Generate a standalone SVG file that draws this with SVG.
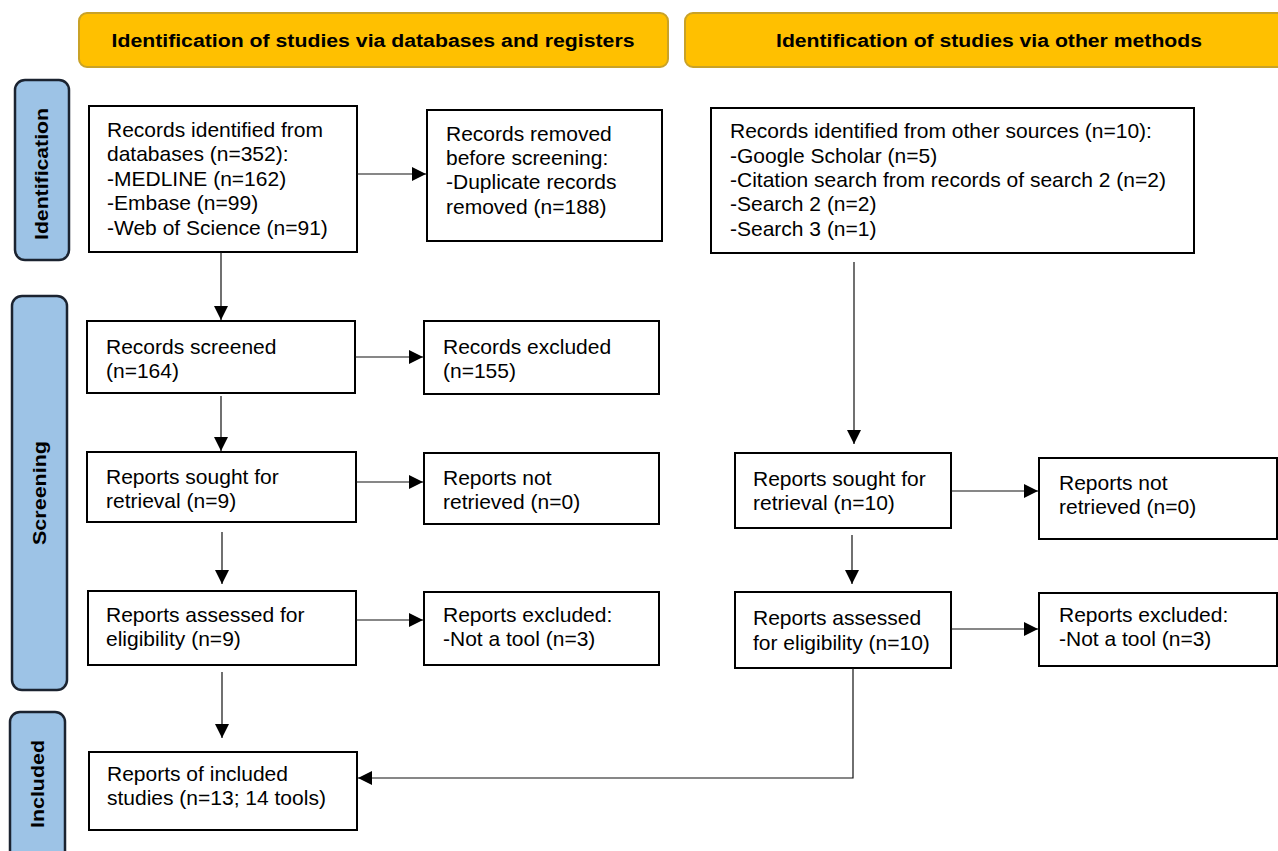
<svg xmlns="http://www.w3.org/2000/svg" width="1278" height="851" viewBox="0 0 1278 851">
<defs>
<marker id="ah" viewBox="0 0 14 14" refX="14" refY="7" markerWidth="14" markerHeight="14" markerUnits="userSpaceOnUse" orient="auto">
<path d="M0,0 L14,7 L0,14 z" fill="#000"/>
</marker>
<style>
.hdr{fill:#FFC000;stroke:#C9A227;stroke-width:2}
.hdrt{font-family:"Liberation Sans",Arial,sans-serif;font-weight:bold;font-size:18px;fill:#000;text-anchor:middle}
.side{fill:#9DC3E6;stroke:#1B2330;stroke-width:2.5}
.sidet{font-family:"Liberation Sans",Arial,sans-serif;font-weight:bold;font-size:18px;fill:#000;text-anchor:middle}
.box{fill:#fff;stroke:#000;stroke-width:2}
.t{font-family:"Liberation Sans",Arial,sans-serif;font-size:21px;fill:#000}
.c{fill:none;stroke:#111;stroke-width:1.2}
</style>
</defs>
<rect width="1278" height="851" fill="#fff"/>

<g id="header-databases">
<rect class="hdr" x="79" y="13" width="589" height="54" rx="8"/>
<text class="hdrt" x="373" y="47" textLength="523" lengthAdjust="spacingAndGlyphs">Identification of studies via databases and registers</text>
</g>
<g id="header-other">
<rect class="hdr" x="685" y="13" width="603" height="54" rx="8"/>
<text class="hdrt" x="989" y="47" textLength="426" lengthAdjust="spacingAndGlyphs">Identification of studies via other methods</text>
</g>

<g id="stage-identification">
<rect class="side" x="15" y="80" width="54" height="180" rx="10"/>
<text class="sidet" transform="translate(48,174) rotate(-90)" textLength="132" lengthAdjust="spacingAndGlyphs">Identification</text>
</g>
<g id="stage-screening">
<rect class="side" x="12" y="296" width="55" height="394" rx="10"/>
<text class="sidet" transform="translate(46,493) rotate(-90)" textLength="104" lengthAdjust="spacingAndGlyphs">Screening</text>
</g>
<g id="stage-included">
<rect class="side" x="10" y="712" width="55" height="150" rx="10"/>
<text class="sidet" transform="translate(44,784) rotate(-90)" textLength="88" lengthAdjust="spacingAndGlyphs">Included</text>
</g>

<g id="records-identified">
<rect class="box" x="89" y="106" width="268" height="146"/>
<text class="t" x="107" y="137">Records identified from</text>
<text class="t" x="107" y="161">databases (n=352):</text>
<text class="t" x="107" y="186">-MEDLINE (n=162)</text>
<text class="t" x="107" y="210">-Embase (n=99)</text>
<text class="t" x="107" y="235">-Web of Science (n=91)</text>
</g>
<g id="records-removed">
<rect class="box" x="427" y="110" width="235" height="131"/>
<text class="t" x="446" y="141">Records removed</text>
<text class="t" x="446" y="165">before screening:</text>
<text class="t" x="446" y="189">-Duplicate records</text>
<text class="t" x="446" y="214">removed (n=188)</text>
</g>
<g id="records-screened">
<rect class="box" x="87" y="321" width="268" height="72"/>
<text class="t" x="106" y="354">Records screened</text>
<text class="t" x="106" y="378">(n=164)</text>
</g>
<g id="records-excluded">
<rect class="box" x="424" y="321" width="235" height="73"/>
<text class="t" x="443" y="354">Records excluded</text>
<text class="t" x="443" y="378">(n=155)</text>
</g>
<g id="reports-sought-db">
<rect class="box" x="87" y="452" width="269" height="70"/>
<text class="t" x="106" y="484">Reports sought for</text>
<text class="t" x="106" y="508">retrieval (n=9)</text>
</g>
<g id="reports-not-retrieved-db">
<rect class="box" x="424" y="453" width="235" height="71"/>
<text class="t" x="443" y="485">Reports not</text>
<text class="t" x="443" y="509">retrieved (n=0)</text>
</g>
<g id="reports-assessed-db">
<rect class="box" x="88" y="591" width="268" height="74"/>
<text class="t" x="106" y="622">Reports assessed for</text>
<text class="t" x="106" y="646">eligibility (n=9)</text>
</g>
<g id="reports-excluded-db">
<rect class="box" x="424" y="592" width="235" height="73"/>
<text class="t" x="443" y="622">Reports excluded:</text>
<text class="t" x="443" y="646">-Not a tool (n=3)</text>
</g>
<g id="reports-included">
<rect class="box" x="89" y="752" width="268" height="78"/>
<text class="t" x="107" y="781">Reports of included</text>
<text class="t" x="107" y="805">studies (n=13; 14 tools)</text>
</g>

<g id="records-other">
<rect class="box" x="711" y="108" width="483" height="145"/>
<text class="t" x="730" y="138">Records identified from other sources (n=10):</text>
<text class="t" x="730" y="163">-Google Scholar (n=5)</text>
<text class="t" x="730" y="187">-Citation search from records of search 2 (n=2)</text>
<text class="t" x="730" y="211">-Search 2 (n=2)</text>
<text class="t" x="730" y="236">-Search 3 (n=1)</text>
</g>
<g id="reports-sought-other">
<rect class="box" x="735" y="453" width="216" height="75"/>
<text class="t" x="753" y="486">Reports sought for</text>
<text class="t" x="753" y="510">retrieval (n=10)</text>
</g>
<g id="reports-not-retrieved-other">
<rect class="box" x="1039" y="458" width="238" height="81"/>
<text class="t" x="1059" y="490">Reports not</text>
<text class="t" x="1059" y="514">retrieved (n=0)</text>
</g>
<g id="reports-assessed-other">
<rect class="box" x="735" y="592" width="216" height="76"/>
<text class="t" x="753" y="625">Reports assessed</text>
<text class="t" x="753" y="650">for eligibility (n=10)</text>
</g>
<g id="reports-excluded-other">
<rect class="box" x="1039" y="593" width="238" height="73"/>
<text class="t" x="1059" y="622">Reports excluded:</text>
<text class="t" x="1059" y="646">-Not a tool (n=3)</text>
</g>

<g id="connectors">
<line class="c" x1="357" y1="174" x2="426" y2="174" marker-end="url(#ah)"/>
<line class="c" x1="221" y1="252" x2="221" y2="320" marker-end="url(#ah)"/>
<line class="c" x1="355" y1="357" x2="423" y2="357" marker-end="url(#ah)"/>
<line class="c" x1="221" y1="396" x2="221" y2="451" marker-end="url(#ah)"/>
<line class="c" x1="356" y1="482" x2="423" y2="482" marker-end="url(#ah)"/>
<line class="c" x1="222" y1="532" x2="222" y2="584" marker-end="url(#ah)"/>
<line class="c" x1="356" y1="620" x2="423" y2="620" marker-end="url(#ah)"/>
<line class="c" x1="222" y1="672" x2="222" y2="738" marker-end="url(#ah)"/>
<line class="c" x1="854" y1="262" x2="854" y2="444" marker-end="url(#ah)"/>
<line class="c" x1="951" y1="491" x2="1038" y2="491" marker-end="url(#ah)"/>
<line class="c" x1="852" y1="535" x2="852" y2="584" marker-end="url(#ah)"/>
<line class="c" x1="951" y1="629" x2="1038" y2="629" marker-end="url(#ah)"/>
<polyline class="c" points="853,668 853,778 358,778" marker-end="url(#ah)"/>
</g>
</svg>
